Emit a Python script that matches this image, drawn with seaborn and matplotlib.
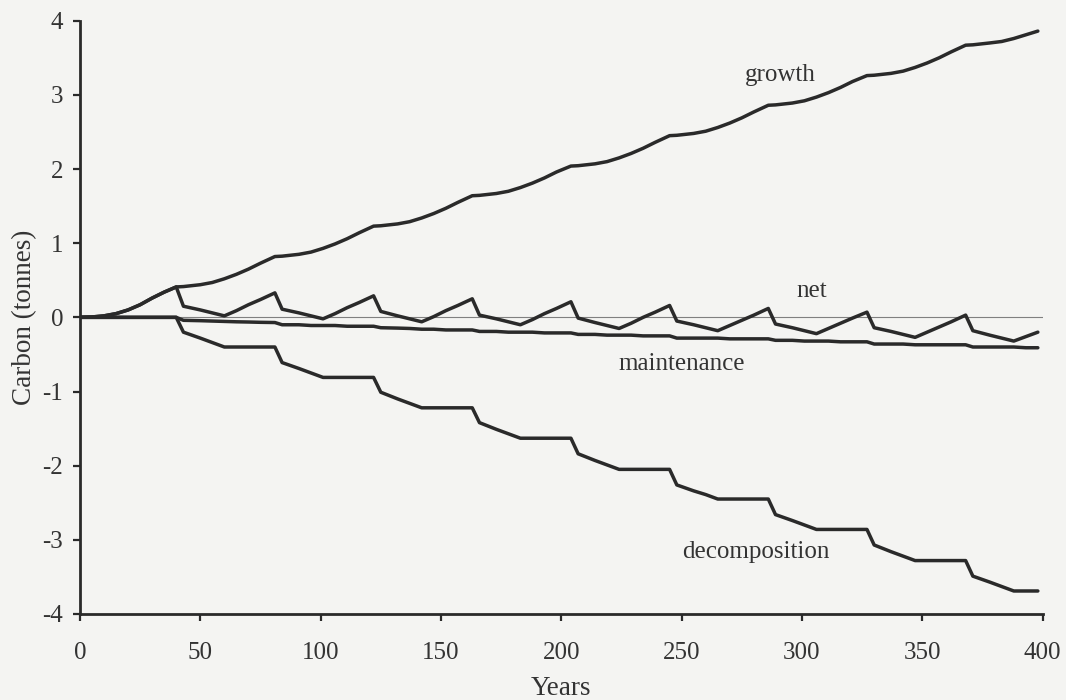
import matplotlib
matplotlib.use("Agg")
import matplotlib.pyplot as plt
import seaborn as sns
import pandas as pd

# ---- data ----
years = [0, 5, 10, 15, 20, 25, 30, 35,
         40, 43, 50, 55, 60, 65, 70, 75,
         81, 84, 91, 96, 101, 106, 111, 116,
         122, 125, 132, 137, 142, 147, 152, 157,
         163, 166, 173, 178, 183, 188, 193, 198,
         204, 207, 214, 219, 224, 229, 234, 239,
         245, 248, 255, 260, 265, 270, 275, 280,
         286, 289, 296, 301, 306, 311, 316, 321,
         327, 330, 337, 342, 347, 352, 357, 362,
         368, 371, 378, 383, 388, 393, 398]

growth = [0.00, 0.005, 0.02, 0.05, 0.10, 0.17, 0.26, 0.34,
          0.41, 0.415, 0.44, 0.47, 0.52, 0.58, 0.65, 0.73,
          0.82, 0.825, 0.85, 0.88, 0.93, 0.99, 1.06, 1.14,
          1.23, 1.235, 1.26, 1.29, 1.34, 1.40, 1.47, 1.55,
          1.64, 1.645, 1.67, 1.70, 1.75, 1.81, 1.88, 1.96,
          2.04, 2.045, 2.07, 2.10, 2.15, 2.21, 2.28, 2.36,
          2.45, 2.455, 2.48, 2.51, 2.56, 2.62, 2.69, 2.77,
          2.86, 2.865, 2.89, 2.92, 2.97, 3.03, 3.10, 3.18,
          3.26, 3.265, 3.29, 3.32, 3.37, 3.43, 3.50, 3.58,
          3.67, 3.675, 3.70, 3.72, 3.76, 3.81, 3.86]

net = [0.00, 0.005, 0.02, 0.05, 0.10, 0.17, 0.26, 0.34,
       0.41, 0.15, 0.10, 0.06, 0.02, 0.09, 0.17, 0.24,
       0.33, 0.11, 0.06, 0.02, -0.02, 0.05, 0.13, 0.20,
       0.29, 0.08, 0.02, -0.02, -0.06, 0.01, 0.09, 0.16,
       0.25, 0.03, -0.02, -0.06, -0.10, -0.03, 0.05, 0.12,
       0.21, -0.01, -0.07, -0.11, -0.15, -0.08, 0.00, 0.07,
       0.16, -0.05, -0.10, -0.14, -0.18, -0.11, -0.04, 0.03,
       0.12, -0.09, -0.14, -0.18, -0.22, -0.15, -0.08, -0.01,
       0.07, -0.14, -0.19, -0.23, -0.27, -0.20, -0.13, -0.06,
       0.03, -0.18, -0.24, -0.28, -0.32, -0.26, -0.20]

maintenance = [0.00, 0.00, 0.00, 0.00, 0.00, 0.00, 0.00, 0.00,
               0.00, -0.04, -0.045, -0.05, -0.055, -0.06, -0.063, -0.067,
               -0.07, -0.10, -0.10, -0.11, -0.11, -0.11, -0.12, -0.12,
               -0.12, -0.14, -0.145, -0.15, -0.16, -0.16, -0.17, -0.17,
               -0.17, -0.19, -0.19, -0.20, -0.20, -0.20, -0.21, -0.21,
               -0.21, -0.23, -0.23, -0.24, -0.24, -0.24, -0.25, -0.25,
               -0.25, -0.28, -0.28, -0.28, -0.28, -0.29, -0.29, -0.29,
               -0.29, -0.31, -0.31, -0.32, -0.32, -0.32, -0.33, -0.33,
               -0.33, -0.36, -0.36, -0.36, -0.37, -0.37, -0.37, -0.37,
               -0.37, -0.40, -0.40, -0.40, -0.40, -0.41, -0.41]

decomposition = [0.00, 0.00, 0.00, 0.00, 0.00, 0.00, 0.00, 0.00,
                 0.00, -0.20, -0.28, -0.34, -0.40, -0.40, -0.40, -0.40,
                 -0.40, -0.61, -0.69, -0.75, -0.81, -0.81, -0.81, -0.81,
                 -0.81, -1.01, -1.10, -1.16, -1.22, -1.22, -1.22, -1.22,
                 -1.22, -1.42, -1.51, -1.57, -1.63, -1.63, -1.63, -1.63,
                 -1.63, -1.84, -1.93, -1.99, -2.05, -2.05, -2.05, -2.05,
                 -2.05, -2.26, -2.34, -2.39, -2.45, -2.45, -2.45, -2.45,
                 -2.45, -2.66, -2.74, -2.80, -2.86, -2.86, -2.86, -2.86,
                 -2.86, -3.07, -3.16, -3.22, -3.28, -3.28, -3.28, -3.28,
                 -3.28, -3.49, -3.57, -3.63, -3.69, -3.69, -3.69]

series_names = ["growth", "net", "maintenance", "decomposition"]
x_ticks = [0, 50, 100, 150, 200, 250, 300, 350, 400]
y_ticks = [-4, -3, -2, -1, 0, 1, 2, 3, 4]

# ---- styling ----
sns.set_style("ticks")
plt.rcParams["font.family"] = ["Liberation Serif", "DejaVu Serif"]

bg = "#f4f4f2"
ink = "#2a2a2a"
txt = "#333333"

fig = plt.figure(figsize=(10.66, 7.0), dpi=100, facecolor=bg)
ax = fig.add_axes([0.0750, 0.1229, 0.9031, 0.8475])
ax.set_facecolor(bg)

df = pd.DataFrame({
    "Years": years * 4,
    "Carbon": growth + net + maintenance + decomposition,
    "series": sum([[n] * len(years) for n in series_names], []),
})

ax.axhline(0, color="#808080", lw=0.8, zorder=1)
sns.lineplot(data=df, x="Years", y="Carbon", hue="series",
             palette=[ink] * 4, legend=False, linewidth=2.5,
             sort=False, estimator=None, ax=ax, zorder=3)

ax.set_xlim(0, 400)
ax.set_ylim(-4, 4)
ax.set_xticks(x_ticks)
ax.set_yticks(y_ticks)
ax.set_xticklabels([str(v) for v in x_ticks])
ax.set_yticklabels([str(v) for v in y_ticks])

sns.despine(ax=ax)
for side in ("left", "bottom"):
    ax.spines[side].set_linewidth(2.0)
    ax.spines[side].set_color(ink)

ax.tick_params(axis="both", direction="out", length=5, width=1.6,
               color=ink, labelsize=18, labelcolor=txt)
ax.tick_params(axis="x", pad=15)
ax.tick_params(axis="y", pad=7)

ax.set_xlabel("Years", fontsize=19.5, color=txt, labelpad=9)
ax.set_ylabel("Carbon (tonnes)", fontsize=19.5, color=txt, labelpad=4)

labels_pos = {"growth": (291, 3.19), "net": (304, 0.27),
              "maintenance": (250, -0.71), "decomposition": (281, -3.25)}
for name in series_names:
    lx, ly = labels_pos[name]
    ax.text(lx, ly, name, fontsize=18, color=txt, ha="center", va="baseline")

fig.savefig("out.png", dpi=100, facecolor=bg)
